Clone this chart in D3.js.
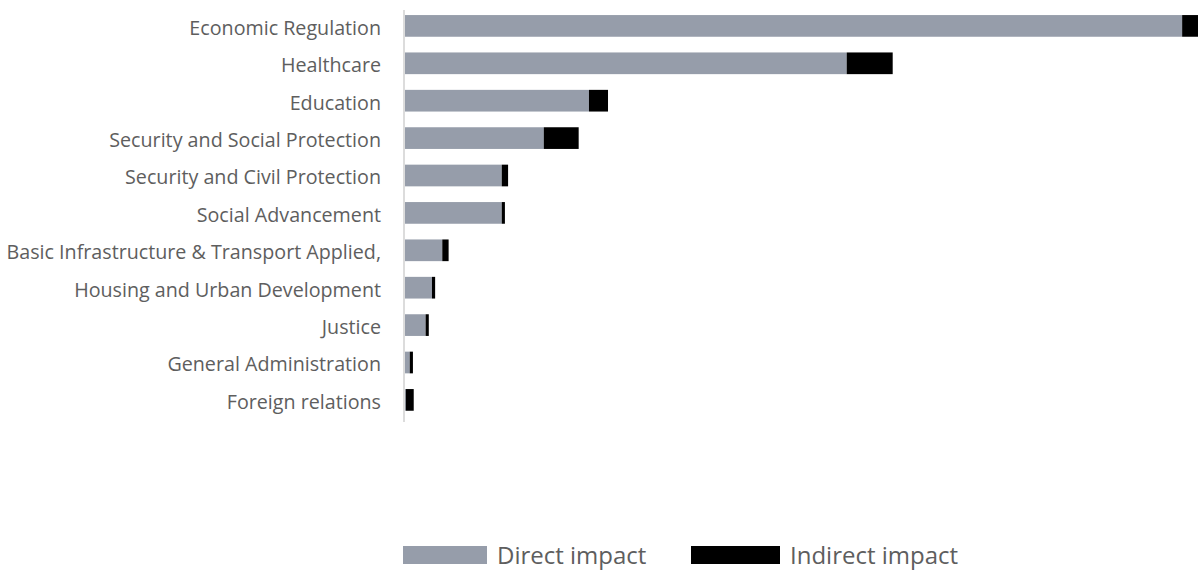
<!DOCTYPE html>
<html>
<head>
<meta charset="utf-8">
<script src="https://cdn.jsdelivr.net/npm/d3@7"></script>
<style>
  body { margin: 0; background: #fff; }
  svg { display: block; font-family: "Open Sans", sans-serif; }
</style>
</head>
<body>
<div class="chart"></div>
<script>
let width = 1198, height = 571;
let margin = {top: 10, left: 405, right: 0};

let categories = [
  "Economic Regulation",
  "Healthcare",
  "Education",
  "Security and Social Protection",
  "Security and Civil Protection",
  "Social Advancement",
  "Basic Infrastructure & Transport Applied,",
  "Housing and Urban Development",
  "Justice",
  "General Administration",
  "Foreign relations"
];
// share of impact
let direct   = [98.0, 55.7, 23.2, 17.5, 12.2, 12.2, 4.7, 3.4, 2.6, 0.6, 0.1];
let indirect = [2.0, 5.8, 2.4, 4.4, 0.8, 0.4, 0.8, 0.4, 0.4, 0.4, 1.0];

let seriesNames = ["Direct impact", "Indirect impact"];
let colors = ["#969daa", "#000000"];

const rows = categories.map((c, i) => ({cat: c, direct: direct[i], indirect: indirect[i]}));
const stacked = d3.stack().keys(["direct", "indirect"])(rows);

const svg = d3.select(".chart")
  .append("svg")
  .attr("width", width)
  .attr("height", height);

let x = d3.scaleLinear()
  .domain([0, 100])
  .range([margin.left, width - margin.right]);

let y = d3.scaleBand()
  .domain(categories)
  .range([7.2, 418.6])
  .paddingInner(0.42)
  .paddingOuter(0.21);

svg.selectAll("g.series")
  .data(stacked)
  .enter()
  .append("g")
  .attr("class", "series")
  .attr("fill", (d, i) => colors[i])
  .selectAll("rect")
  .data(d => d)
  .enter()
  .append("rect")
  .attr("x", d => x(d[0]))
  .attr("y", d => y(d.data.cat))
  .attr("width", d => x(d[1]) - x(d[0]))
  .attr("height", y.bandwidth());

// left axis: just the line and labels
let yAxis = svg.append("g")
  .attr("transform", "translate(" + (margin.left - 1) + ",0)")
  .call(d3.axisLeft(y).tickSize(0).tickPadding(23));

yAxis.select(".domain").remove();
yAxis.append("line")
  .attr("x1", 0).attr("x2", 0)
  .attr("y1", 10).attr("y2", 422)
  .attr("stroke", "#dcdcdc")
  .attr("stroke-width", 2);

yAxis.selectAll(".tick text")
  .attr("font-family", "'Open Sans', sans-serif")
  .attr("font-size", 19.7)
  .attr("fill", "#5e5e5e")
  .attr("dy", "0.45em");

// legend
let legendX = [403, 691];
let swatchW = [84, 89];
let legend = svg.append("g")
  .selectAll("g")
  .data(seriesNames)
  .enter()
  .append("g")
  .attr("transform", (d, i) => "translate(" + legendX[i] + ",546)");

legend.append("rect")
  .attr("width", (d, i) => swatchW[i])
  .attr("height", 18)
  .attr("fill", (d, i) => colors[i]);

legend.append("text")
  .attr("x", (d, i) => swatchW[i] + 10)
  .attr("y", 18)
  .attr("font-size", 24)
  .attr("fill", "#5e5e5e")
  .text(d => d);
</script>
</body>
</html>
